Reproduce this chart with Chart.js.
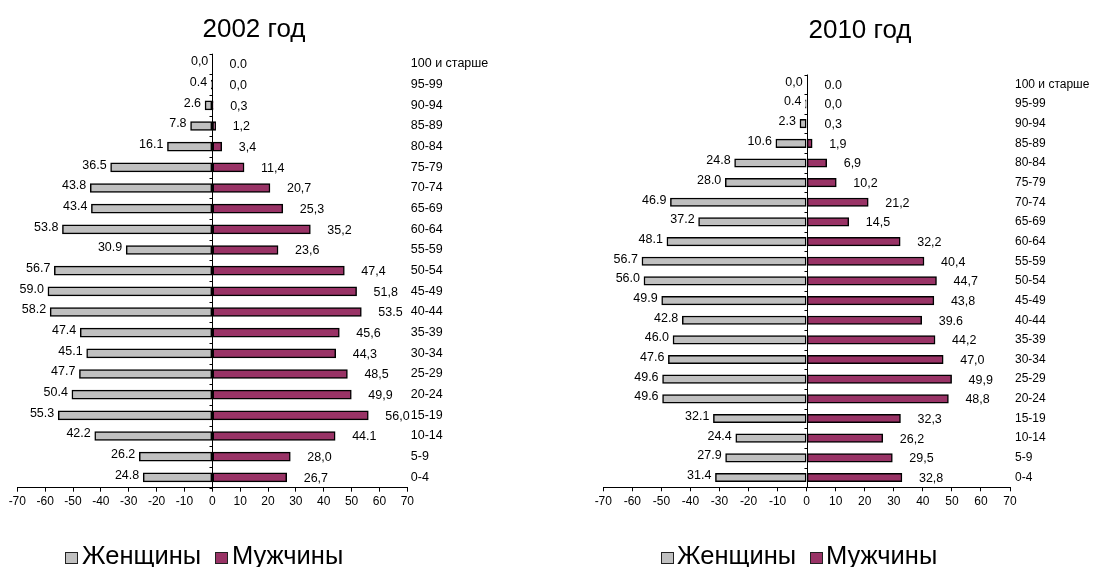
<!DOCTYPE html>
<html><head><meta charset="utf-8">
<script src="https://cdn.jsdelivr.net/npm/chart.js@4.4.0/dist/chart.umd.min.js"></script>
<style>
body{margin:0;background:#fff;width:1097px;height:567px;overflow:hidden;position:relative;font-family:"Liberation Sans",Arial,sans-serif;}
canvas{position:absolute;top:0;}
.title{position:absolute;font-size:26px;line-height:26px;white-space:nowrap;transform:translateX(-50%);color:#000}
.leg{position:absolute;font-size:25.5px;line-height:25.5px;white-space:nowrap;color:#000}
.box{position:absolute;width:11px;height:10px;border:1px solid #222;}
</style></head><body>
<canvas id="c1" width="548" height="567" style="left:0"></canvas>
<canvas id="c2" width="549" height="567" style="left:548px"></canvas>
<div class="title" id="t1" style="left:254px;top:14.5px"></div>
<div class="title" id="t2" style="left:860px;top:15.5px"></div>
<div id="legends"></div>
<script>
const ageGroups = ["100 и старше","95-99","90-94","85-89","80-84","75-79","70-74","65-69","60-64","55-59","50-54","45-49","40-44","35-39","30-34","25-29","20-24","15-19","10-14","5-9","0-4"];
const seriesNames = ["Женщины","Мужчины"];
const chartTitles = ["2002 год","2010 год"];
const xTickValues = [-70,-60,-50,-40,-30,-20,-10,0,10,20,30,40,50,60,70];

const female2002 = [0.0,0.4,2.6,7.8,16.1,36.5,43.8,43.4,53.8,30.9,56.7,59.0,58.2,47.4,45.1,47.7,50.4,55.3,42.2,26.2,24.8];
const male2002   = [0.0,0.0,0.3,1.2,3.4,11.4,20.7,25.3,35.2,23.6,47.4,51.8,53.5,45.6,44.3,48.5,49.9,56.0,44.1,28.0,26.7];
const female2002Labels = ["0,0","0.4","2.6","7.8","16.1","36.5","43.8","43.4","53.8","30.9","56.7","59.0","58.2","47.4","45.1","47.7","50.4","55.3","42.2","26.2","24.8"];
const male2002Labels   = ["0.0","0,0","0,3","1,2","3,4","11,4","20,7","25,3","35,2","23,6","47,4","51,8","53.5","45,6","44,3","48,5","49,9","56,0","44.1","28,0","26,7"];

const female2010 = [0.0,0.4,2.3,10.6,24.8,28.0,46.9,37.2,48.1,56.7,56.0,49.9,42.8,46.0,47.6,49.6,49.6,32.1,24.4,27.9,31.4];
const male2010   = [0.0,0.0,0.3,1.9,6.9,10.2,21.2,14.5,32.2,40.4,44.7,43.8,39.6,44.2,47.0,49.9,48.8,32.3,26.2,29.5,32.8];
const female2010Labels = ["0,0","0.4","2.3","10.6","24.8","28.0","46.9","37.2","48.1","56.7","56.0","49.9","42.8","46.0","47.6","49.6","49.6","32.1","24.4","27.9","31.4"];
const male2010Labels   = ["0.0","0,0","0,3","1,9","6,9","10,2","21,2","14,5","32,2","40,4","44,7","43,8","39.6","44,2","47,0","49,9","48,8","32,3","26,2","29,5","32,8"];

const FEMALE_COLOR = "#C0C0C0";
const MALE_COLOR = "#993366";
const FONT = '"Liberation Sans", Arial, sans-serif';
Chart.defaults.font.family = FONT;
Chart.defaults.color = "#000";

const decor = {
  id: 'decor',
  afterDatasetsDraw(chart, args, opts) {
    const {ctx, chartArea: a, scales: {x, y}} = chart;
    const x0 = Math.round(x.getPixelForValue(0)) + 0.5;
    const band = y.getPixelForValue(1) - y.getPixelForValue(0);
    ctx.save();
    ctx.strokeStyle = '#000';
    ctx.lineWidth = 1;
    ctx.beginPath();
    ctx.moveTo(x0, a.top);
    ctx.lineTo(x0, a.bottom);
    for (let i = 0; i <= y.ticks.length; i++) {
      const yy = Math.round(y.getPixelForValue(0) - band / 2 + i * band) + 0.5;
      ctx.moveTo(x0 - 3, yy);
      ctx.lineTo(x0, yy);
    }
    ctx.stroke();
    ctx.font = '12.5px ' + FONT;
    ctx.fillStyle = '#000';
    ctx.textBaseline = 'middle';
    ctx.textAlign = 'right';
    chart.getDatasetMeta(0).data.forEach((el, i) => {
      ctx.fillText(opts.fLabels[i], Math.min(el.x, x0) - 4, el.y - 2);
    });
    ctx.textAlign = 'left';
    chart.getDatasetMeta(1).data.forEach((el, i) => {
      ctx.fillText(opts.mLabels[i], Math.max(el.x, x0) + 17, el.y + 1);
    });
    ctx.restore();
  }
};

function makeChart(id, female, male, fLabels, mLabels, g) {
  const canvas = document.getElementById(id);
  const W = canvas.width, H = canvas.height;
  return new Chart(canvas, {
    type: 'bar',
    data: {
      labels: ageGroups,
      datasets: [
        {label: seriesNames[0], data: female.map(v => -v), backgroundColor: FEMALE_COLOR, borderColor: '#000', borderWidth: 1.5, borderSkipped: false, barThickness: g.bar},
        {label: seriesNames[1], data: male, backgroundColor: MALE_COLOR, borderColor: '#000', borderWidth: 1.5, borderSkipped: false, barThickness: g.bar}
      ]
    },
    plugins: [decor],
    options: {
      indexAxis: 'y',
      responsive: false,
      animation: false,
      layout: {padding: {left: g.left, top: g.top, right: 0, bottom: 0}},
      plugins: {
        legend: {display: false},
        title: {display: false},
        tooltip: {enabled: false},
        decor: {fLabels, mLabels}
      },
      scales: {
        x: {
          type: 'linear', min: -70, max: 70, stacked: true,
          afterBuildTicks: s => { s.ticks = xTickValues.map(v => ({value: v})); },
          afterFit: s => { s.height = H - g.bottom; },
          grid: {display: true, drawOnChartArea: false, drawTicks: true, tickLength: 4, color: '#000', lineWidth: 1},
          border: {display: true, color: '#000', width: 1},
          ticks: {font: {size: 12}, color: '#000', padding: 3, maxRotation: 0, autoSkip: false, callback: v => String(v)}
        },
        y: {
          type: 'category', position: 'right', stacked: true,
          afterFit: s => { s.width = W - g.right; },
          grid: {display: false, drawTicks: false, tickLength: 0},
          border: {display: false},
          ticks: {font: {size: g.catFont}, color: '#000', padding: g.catPad, autoSkip: false}
        }
      }
    }
  });
}

makeChart('c1', female2002, male2002, female2002Labels, male2002Labels,
  {left: 17.3, top: 53.7, right: 407.3, bottom: 487.7, bar: 9, catPad: 3.5, catFont: 12.5});
makeChart('c2', female2010, male2010, female2010Labels, male2010Labels,
  {left: 55.3, top: 74.5, right: 462, bottom: 487.3, bar: 8.5, catPad: 5, catFont: 12});

document.getElementById('t1').textContent = chartTitles[0];
document.getElementById('t2').textContent = chartTitles[1];

const legendSpots = [
  {box: [65, 552], text: [82], box2: [215, 552], text2: [232]},
  {box: [661, 552], text: [677], box2: [810, 552], text2: [826]}
];
const legHost = document.getElementById('legends');
legendSpots.forEach(p => {
  [[p.box, p.text, FEMALE_COLOR, seriesNames[0]], [p.box2, p.text2, MALE_COLOR, seriesNames[1]]].forEach(([b, t, c, name]) => {
    const box = document.createElement('div');
    box.className = 'box';
    box.style.left = b[0] + 'px'; box.style.top = b[1] + 'px'; box.style.background = c;
    legHost.appendChild(box);
    const tx = document.createElement('div');
    tx.className = 'leg';
    tx.style.left = t[0] + 'px'; tx.style.top = '542.5px';
    tx.textContent = name;
    legHost.appendChild(tx);
  });
});
</script>
</body></html>
